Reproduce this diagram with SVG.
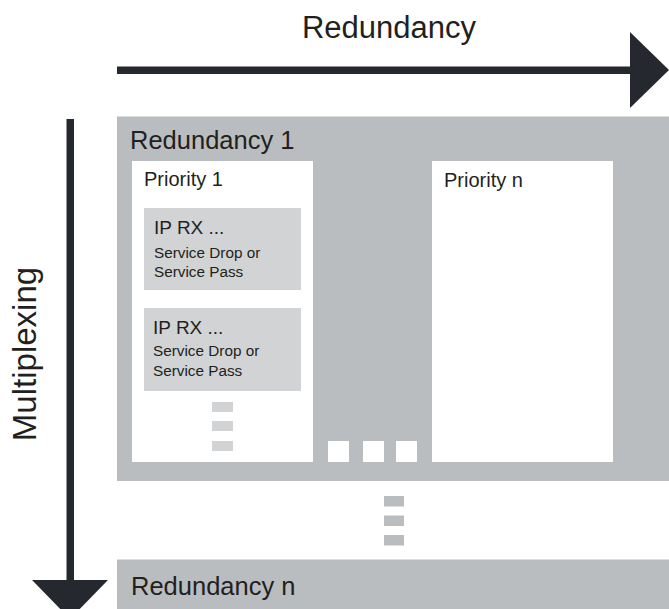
<svg xmlns="http://www.w3.org/2000/svg" width="669" height="609" viewBox="0 0 669 609">
<style>
text{font-family:"Liberation Sans",Arial,sans-serif;fill:#231f20}
.big{font-size:31px}
.axis{font-size:33px}
.red{font-size:25.5px}
.pri{font-size:20px}
.ip{font-size:19px}
.svc{font-size:15.3px}
.gray{fill:#b9bdbf}
.white{fill:#ffffff}
.light{fill:#d1d3d4}
.arrow{fill:#25292f}
</style>
<rect width="669" height="609" fill="#ffffff"/>
<g id="connectors">
<rect class="arrow" x="117" y="66.5" width="515" height="7.5"/>
<polygon class="arrow" points="630,32 669,70 630,108"/>
<rect class="arrow" x="66.5" y="119" width="7.5" height="463"/>
<polygon class="arrow" points="32,580 108,580 70,619"/>
</g>
<g id="label-redundancy"><text class="big" x="389" y="38" text-anchor="middle">Redundancy</text></g>
<g id="label-multiplexing"><text class="axis" transform="translate(36,354) rotate(-90)" text-anchor="middle">Multiplexing</text></g>
<g id="redundancy-1">
<rect class="gray" x="117" y="116.5" width="552" height="364.5"/>
<text class="red" x="130" y="149">Redundancy 1</text>
<rect class="white" x="328" y="441" width="21" height="21"/>
<rect class="white" x="363" y="441" width="21" height="21"/>
<rect class="white" x="396" y="441" width="21" height="21"/>
</g>
<g id="priority-1">
<rect class="white" x="132" y="161" width="181" height="301"/>
<text class="pri" x="144" y="186">Priority 1</text>
<rect class="light" x="212" y="402" width="21" height="10"/>
<rect class="light" x="212" y="421" width="21" height="10"/>
<rect class="light" x="212" y="441" width="21" height="10"/>
</g>
<g id="ip-rx-1">
<rect class="light" x="144" y="208" width="157" height="82"/>
<text class="ip" x="154" y="234">IP RX ...</text>
<text class="svc" x="154" y="257.5">Service Drop or</text>
<text class="svc" x="154" y="276.5">Service Pass</text>
</g>
<g id="ip-rx-2">
<rect class="light" x="144" y="308" width="157" height="83"/>
<text class="ip" x="153" y="333.5">IP RX ...</text>
<text class="svc" x="153" y="356">Service Drop or</text>
<text class="svc" x="153" y="376">Service Pass</text>
</g>
<g id="priority-n">
<rect class="white" x="432" y="161" width="181" height="301"/>
<text class="pri" x="444" y="186.5">Priority n</text>
</g>
<g id="ellipsis">
<rect class="gray" x="384" y="496" width="20" height="10.5"/>
<rect class="gray" x="384" y="515.5" width="20" height="10.5"/>
<rect class="gray" x="384" y="535" width="20" height="10.5"/>
</g>
<g id="redundancy-n">
<rect class="gray" x="117" y="559.5" width="552" height="50"/>
<text class="red" x="131" y="595">Redundancy n</text>
</g>
</svg>
